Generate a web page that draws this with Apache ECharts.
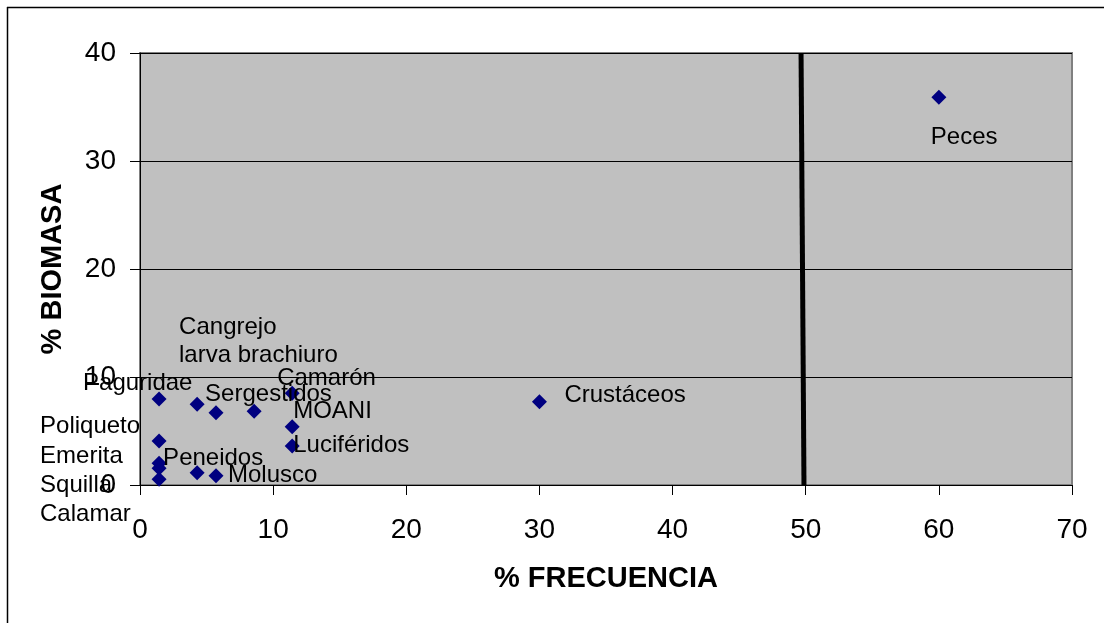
<!DOCTYPE html>
<html>
<head>
<meta charset="utf-8">
<script src="https://cdn.jsdelivr.net/npm/echarts@6/dist/echarts.min.js"></script>
<style>
html,body{margin:0;padding:0;background:#fff;}
#c{width:1104px;height:623px;}
</style>
</head>
<body>
<div id="c"></div>
<script>
// ---- data ----
var names = ['Peces','Crustáceos','Camarón','MOANI','Luciféridos','Sergestidos','larva brachiuro','Cangrejo','Paguridae','Poliqueto','Emerita','Peneidos','Molusco','Squilla','Calamar'];
var frecuencia = [60, 30, 11.43, 11.43, 11.43, 8.57, 5.71, 4.29, 1.43, 1.43, 1.43, 4.29, 5.71, 1.43, 1.43];
var biomasa = [35.9, 7.71, 8.49, 5.40, 3.61, 6.82, 6.69, 7.47, 7.96, 4.07, 2.01, 1.14, 0.86, 1.55, 0.53];
var xTicks = [0, 10, 20, 30, 40, 50, 60, 70];
var yTicks = [0, 10, 20, 30, 40];
var refLineX = [49.65, 49.87];
var refLineY = [40, 0];

// ---- label layout (pixel offsets from each point) ----
var labelOffsets = [[-8,40],[25,-6],[-15,-15],[1,-15],[1,-1],[-49,-17],[-37,-57],[-18,-77],[-76,-16],[-119,-15],[-119,-7],[-34,-14],[12,0],[-119,17],[-119,35]];

var FONT = "'Liberation Sans', Arial, sans-serif";

var scatterData = names.map(function (n, i) {
  return { name: n, value: [frecuencia[i], biomasa[i]] };
});

var chart = echarts.init(document.getElementById('c'), null, { renderer: 'canvas' });
chart.setOption({
  animation: false,
  backgroundColor: '#ffffff',
  textStyle: { fontFamily: FONT },
  grid: {
    left: 140, right: 32, top: 53, bottom: 138,
    show: true, backgroundColor: '#C0C0C0',
    borderColor: '#808080', borderWidth: 2
  },
  xAxis: {
    type: 'value',
    min: xTicks[0], max: xTicks[xTicks.length - 1], interval: 10,
    name: '% FRECUENCIA', nameLocation: 'middle', nameGap: 79,
    nameTextStyle: { fontSize: 29, fontWeight: 'bold', color: '#000', fontFamily: FONT },
    axisLine: { show: true, onZero: false, lineStyle: { color: '#000', width: 1 } },
    axisTick: { show: true, inside: false, length: 10, lineStyle: { color: '#000' } },
    axisLabel: { fontSize: 28, color: '#000', margin: 31, fontFamily: FONT },
    splitLine: { show: false }
  },
  yAxis: {
    type: 'value',
    min: yTicks[0], max: yTicks[yTicks.length - 1], interval: 10,
    name: '% BIOMASA', nameLocation: 'middle', nameGap: 73,
    nameTextStyle: { fontSize: 29, fontWeight: 'bold', color: '#000', fontFamily: FONT },
    axisLine: { show: true, onZero: false, lineStyle: { color: '#000', width: 1 } },
    axisTick: { show: true, inside: false, length: 10, lineStyle: { color: '#000' } },
    axisLabel: { fontSize: 28, color: '#000', margin: 24, fontFamily: FONT },
    splitLine: { show: true, lineStyle: { color: '#000', width: 1 } }
  },
  series: [
    {
      type: 'line',
      data: refLineX.map(function (x, i) { return [x, refLineY[i]]; }),
      symbol: 'none',
      lineStyle: { color: '#000', width: 5 },
      z: 3,
      silent: true
    },
    {
      type: 'scatter',
      symbol: 'diamond',
      symbolSize: [15, 15],
      itemStyle: { color: '#000080', opacity: 1 },
      data: scatterData,
      z: 5,
      label: {
        show: true,
        position: 'inside',
        align: 'left',
        verticalAlign: 'middle',
        formatter: '{b}',
        fontSize: 24,
        color: '#000',
        fontFamily: FONT
      },
      labelLayout: function (params) {
        var o = labelOffsets[params.dataIndex] || [0, 0];
        return { dx: o[0], dy: o[1], hideOverlap: false };
      }
    }
  ],
  graphic: [
    { type: 'line', shape: { x1: 7.5, y1: 7, x2: 7.5, y2: 623 }, style: { stroke: '#000', lineWidth: 1.5 }, z: 100 },
    { type: 'line', shape: { x1: 7, y1: 7.5, x2: 1104, y2: 7.5 }, style: { stroke: '#000', lineWidth: 1.5 }, z: 100 }
  ]
});
</script>
</body>
</html>
